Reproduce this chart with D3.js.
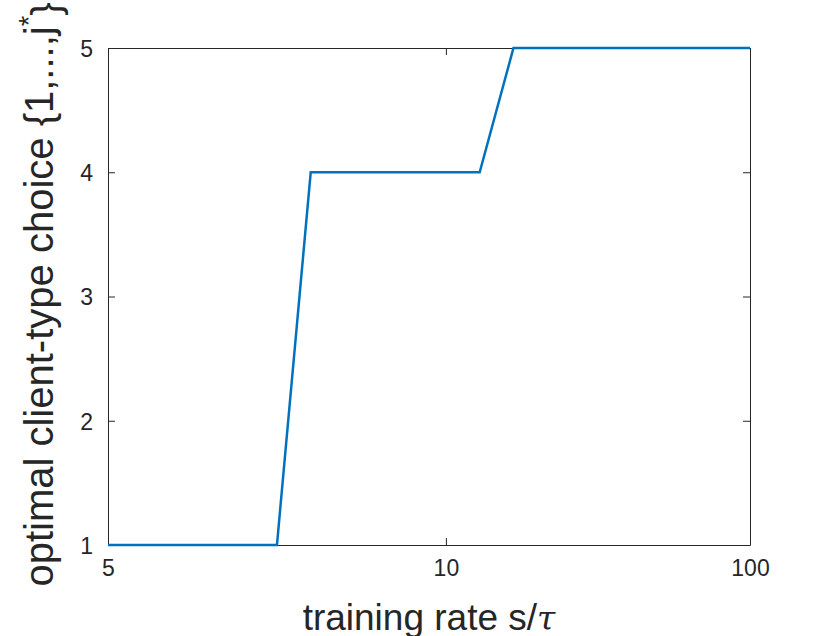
<!DOCTYPE html>
<html>
<head>
<meta charset="utf-8">
<script src="https://cdn.jsdelivr.net/npm/d3@7"></script>
<style>
  html, body { margin: 0; padding: 0; background: #fff; }
  svg { display: block; font-family: "Liberation Sans", Arial, Helvetica, sans-serif; }
</style>
</head>
<body>
<svg id="chart" width="830" height="636"></svg>
<script>
// ---- data ----
const xIndex = [0,1,2,3,4,5,6,7,8,9,10,11,12,13,14,15,16,17,18,19];
const choice = [1,1,1,1,1,1,4,4,4,4,4,4,5,5,5,5,5,5,5,5];
const xTickPositions = [0, 10, 19];
const xTickLabels = ["5", "10", "100"];
const yTicks = [1, 2, 3, 4, 5];

// ---- layout ----
const W = 830, H = 636;
const m = { left: 108, right: 80, top: 48, bottom: 91 };
const iw = W - m.left - m.right, ih = H - m.top - m.bottom;
const axisColor = "#262626";

const svg = d3.select("#chart");
const g = svg.append("g").attr("transform", `translate(${m.left},${m.top})`);

const x = d3.scaleLinear().domain([0, 19]).range([0, iw]);
const y = d3.scaleLinear().domain([1, 5]).range([ih, 0]);

const tickLen = 7;
const xAxis = d3.axisBottom(x).tickValues(xTickPositions)
  .tickFormat((d, i) => xTickLabels[i]).tickSizeInner(-tickLen).tickSizeOuter(0).tickPadding(15);
const yAxis = d3.axisLeft(y).tickValues(yTicks).tickFormat(d3.format("d"))
  .tickSizeInner(-tickLen).tickSizeOuter(0).tickPadding(15);

const gx = g.append("g").attr("transform", `translate(0,${ih})`).call(xAxis);
const gy = g.append("g").call(yAxis);
const gxt = g.append("g").call(d3.axisTop(x).tickValues(xTickPositions).tickFormat("").tickSizeInner(-tickLen).tickSizeOuter(0));
const gyr = g.append("g").attr("transform", `translate(${iw},0)`).call(d3.axisRight(y).tickValues(yTicks).tickFormat("").tickSizeInner(-tickLen).tickSizeOuter(0));

[gx, gy, gxt, gyr].forEach(a => {
  a.attr("font-size", null).attr("font-family", null);
  a.selectAll("path.domain").attr("stroke", axisColor).attr("stroke-width", 1);
  a.selectAll(".tick line").attr("stroke", axisColor).attr("stroke-width", 1);
  a.selectAll(".tick text").attr("fill", axisColor)
    .attr("font-size", 23).style("font-size", "23px")
    .style("font-family", '"Liberation Sans", Arial, Helvetica, sans-serif');
});
gy.selectAll(".tick text").attr("dy", "0.36em");

// line
const line = d3.line().x((d, i) => x(xIndex[i])).y(d => y(d));
g.append("path").datum(choice)
  .attr("d", line)
  .attr("fill", "none")
  .attr("stroke", "#0072BD")
  .attr("stroke-width", 2.5)
  .attr("stroke-linejoin", "miter");

// x label
const xl = svg.append("text")
  .attr("x", m.left + iw / 2).attr("y", 630)
  .attr("text-anchor", "middle")
  .attr("fill", axisColor)
  .style("font-size", "37px");
xl.append("tspan").text("training rate s/");
xl.append("tspan").text("τ").style("font-style", "italic")
  .style("font-family", '"DejaVu Serif", "Liberation Serif", serif').style("font-size", "33px");

// y label
const yl = svg.append("text")
  .attr("transform", `translate(53,${m.top + ih / 2 - 2}) rotate(-90)`)
  .attr("text-anchor", "middle")
  .attr("fill", axisColor)
  .style("font-size", "40px");
yl.append("tspan").text("optimal client-type choice {1,...,j");
yl.append("tspan").text("*").attr("dy", "-0.55em").style("font-size", "27px");
yl.append("tspan").text("}").attr("dy", "0.55em");
</script>
</body>
</html>
